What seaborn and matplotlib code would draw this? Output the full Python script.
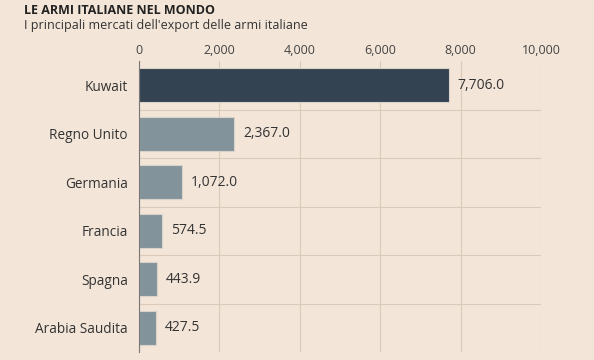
import matplotlib
matplotlib.use("Agg")
import matplotlib.pyplot as plt
import seaborn as sns
import pandas as pd
import numpy as np

countries = ["Kuwait", "Regno Unito", "Germania", "Francia", "Spagna", "Arabia Saudita"]
values = [7706.0, 2367.0, 1072.0, 574.5, 443.9, 427.5]
xticks = [0, 2000, 4000, 6000, 8000, 10000]

bg = "#f3e5d8"
dark = "#2e4356"
grey = "#7f959f"
gridc = "#dccab8"

sns.set_theme(style="white")
plt.rcParams["font.family"] = ["Open Sans", "DejaVu Sans"]

df = pd.DataFrame({"country": countries, "value": values})
colors = [dark] + [grey] * (len(countries) - 1)

fig = plt.figure(figsize=(5.94, 3.6), dpi=100, facecolor=bg)
ax = fig.add_axes([139/594, 1 - 352/360, (541-139)/594, (352-61)/360])
ax.set_facecolor(bg)

sns.barplot(data=df, x="value", y="country", hue="country", palette=colors,
            legend=False, width=0.7, ax=ax, edgecolor="#d9d3cc", linewidth=0.8)

ax.set_xlim(0, 10000)
ax.set_ylim(len(countries) - 0.5, -0.5)
ax.xaxis.tick_top()
ax.set_xticks(xticks)
ax.set_xticklabels([f"{v:,}" for v in xticks], fontsize=9, color="#444444")
ax.set_yticks(range(len(countries)))
ax.set_yticklabels(countries, fontsize=9.8, color="#333333")
ax.set_yticks(np.arange(0.5, len(countries) - 0.5, 1), minor=True)
ax.tick_params(axis="both", which="both", length=0)
ax.tick_params(axis="x", pad=3)
ax.tick_params(axis="y", pad=8)
ax.set_xlabel("")
ax.set_ylabel("")
ax.grid(axis="x", color=gridc, linewidth=0.8)
ax.grid(axis="y", which="minor", color=gridc, linewidth=0.8)
ax.set_axisbelow(True)
for s in ["top", "right", "bottom"]:
    ax.spines[s].set_visible(False)
ax.spines["left"].set_color("#777777")
ax.spines["left"].set_linewidth(0.8)

for i, v in enumerate(values):
    ax.text(v + 225, i, f"{v:,.1f}", va="center", ha="left", fontsize=10, color="#333333")

fig.text(24/594, 1 - 11/360, "LE ARMI ITALIANE NEL MONDO", fontsize=9, fontweight="bold",
         color="#222222", va="center", ha="left")
fig.text(24/594, 1 - 26/360, "I principali mercati dell'export delle armi italiane", fontsize=9,
         color="#333333", va="center", ha="left")

fig.savefig("out.png", dpi=100, facecolor=bg)
